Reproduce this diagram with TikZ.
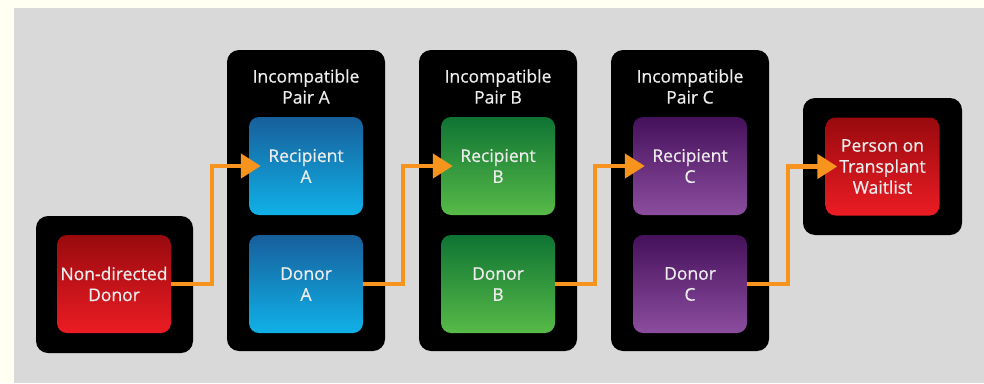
\documentclass[tikz,border=0pt]{standalone}
\usepackage{fontspec}
\setmainfont{Open Sans}
\newfontfamily\labelfont[FakeBold=0.6]{Open Sans}
\usetikzlibrary{arrows.meta}
\definecolor{cream}{HTML}{FFFFF2}
\definecolor{panel}{HTML}{D9D9D9}
\definecolor{boxtext}{HTML}{EDEDED}
\definecolor{flowline}{HTML}{F7941D}
\definecolor{redtop}{HTML}{980A0E}
\definecolor{redbot}{HTML}{EC1C24}
\definecolor{bluetop}{HTML}{175F9B}
\definecolor{bluebot}{HTML}{10B1E8}
\definecolor{greentop}{HTML}{0F7433}
\definecolor{greenbot}{HTML}{57BA48}
\definecolor{purptop}{HTML}{45115B}
\definecolor{purpbot}{HTML}{8C4D9F}
\tikzset{holder/.style={fill=black,rounded corners=12pt,inner sep=0pt,outer sep=0pt},
  organ/.style={rounded corners=10pt,minimum width=114pt,minimum height=98pt,inner sep=0pt,
    align=center,text=boxtext,font=\labelfont\fontsize{17.5}{21}\selectfont},
  pairtitle/.style={align=center,text=boxtext,inner sep=0pt,font=\labelfont\fontsize{17.5}{21}\selectfont},
  flow/.style={draw=flowline,line width=4.5pt,-{Triangle[length=20pt,width=24pt]},shorten >=-12pt}}
\newcommand{\organbox}[5]{\node[organ,top color=#3,bottom color=#4] at (#1) (#2) {#5}}

\begin{document}
\begin{tikzpicture}[x=1pt,y=-1pt]
  \useasboundingbox (0,0) rectangle (984,383);
  \fill[cream] (0,0) rectangle (984,383);
  \fill[panel] (14,8) rectangle (984,383);

  \node[holder,minimum width=157pt,minimum height=137pt] at (114.5,284.5) (ndhold) {};
  \node[holder,minimum width=158pt,minimum height=301pt] at (306,200.5) (pairA) {};
  \node[holder,minimum width=158pt,minimum height=301pt] at (498,200.5) (pairB) {};
  \node[holder,minimum width=158pt,minimum height=301pt] at (690,200.5) (pairC) {};
  \node[holder,minimum width=159pt,minimum height=137pt] at (882.5,166.5) (wlhold) {};

  \node[pairtitle] at (306,86.5) (titleA) {Incompatible\\Pair A};
  \node[pairtitle] at (498,86.5) (titleB) {Incompatible\\Pair B};
  \node[pairtitle] at (690,86.5) (titleC) {Incompatible\\Pair C};

  \organbox{114,284}{nd}{redtop}{redbot}{Non-directed\\Donor};
  \organbox{306,166}{recA}{bluetop}{bluebot}{Recipient\\A};
  \organbox{306,284}{donA}{bluetop}{bluebot}{Donor\\A};
  \organbox{498,166}{recB}{greentop}{greenbot}{Recipient\\B};
  \organbox{498,284}{donB}{greentop}{greenbot}{Donor\\B};
  \organbox{690,166}{recC}{purptop}{purpbot}{Recipient\\C};
  \organbox{690,284}{donC}{purptop}{purpbot}{Donor\\C};
  \organbox{882.5,166.5}{wl}{redtop}{redbot}{Person on\\Transplant\\Waitlist};

  \draw[flow] (nd.east) -- ++(41,0) |- (recA.west);
  \draw[flow] (donA.east) -- ++(40,0) |- (recB.west);
  \draw[flow] (donB.east) -- ++(40,0) |- (recC.west);
  \draw[flow] (donC.east) -- ++(41,0) |- (wl.west);
\end{tikzpicture}
\end{document}
